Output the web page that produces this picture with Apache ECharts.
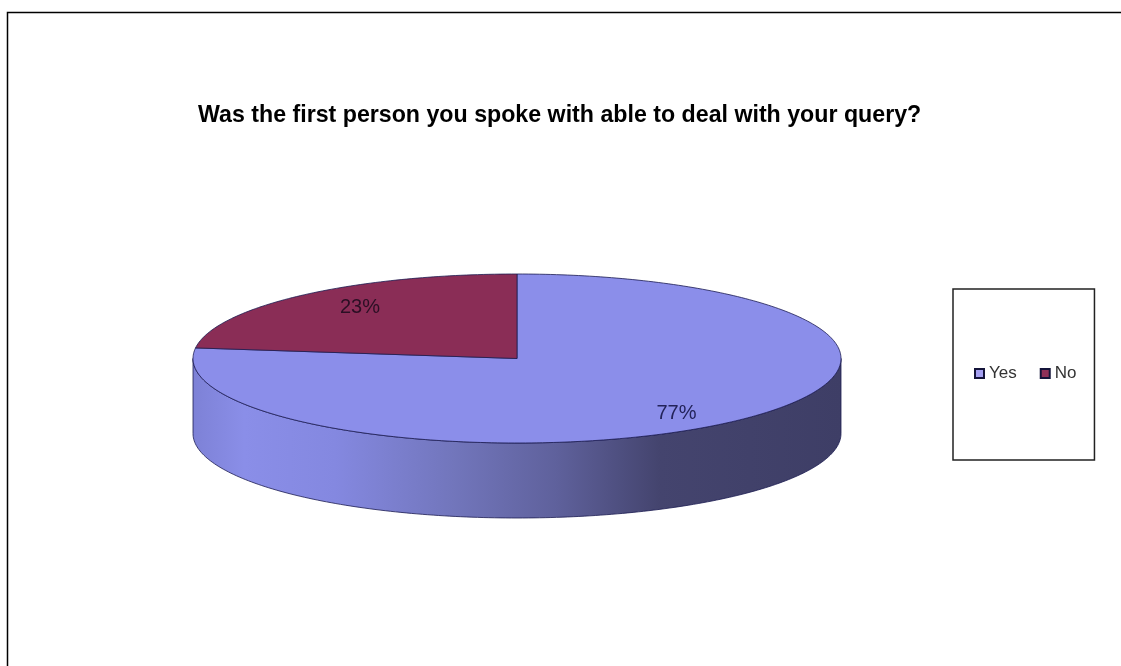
<!DOCTYPE html>
<html>
<head>
<meta charset="utf-8">
<style>html,body{margin:0;padding:0;background:#fff}#c{width:1121px;height:666px}</style>
<script src="https://cdn.jsdelivr.net/npm/echarts@6/dist/echarts.min.js"></script>
</head>
<body>
<div id="c"></div>
<script>
const categories = ['Yes', 'No'];
const values = [77, 23];
const faceColors = ['#8b8eea', '#8a2d56'];
const legendColors = ['#a5a0f2', '#8f3058'];
const titleText = 'Was the first person you spoke with able to deal with your query?';

const cx = 517, cy = 358.5, rx = 324, ry = 84.5, depth = 75;
const total = values.reduce((a, b) => a + b, 0);
const edge = '#1c1c52';
const sideStops = [
  { offset: 0, color: '#7d81d6' }, { offset: 0.08, color: '#8a8ee8' },
  { offset: 0.22, color: '#8488e0' }, { offset: 0.4, color: '#7276bc' },
  { offset: 0.56, color: '#5f619c' }, { offset: 0.72, color: '#44446e' },
  { offset: 1, color: '#3e3e66' }
];
const pt = (deg, dy) => {
  const t = deg * Math.PI / 180;
  return [cx + rx * Math.sin(t), cy - ry * Math.cos(t) + (dy || 0)];
};
const arc = (a, b, dy) => {
  const pts = [], n = Math.max(2, Math.ceil(Math.abs(b - a)));
  for (let i = 0; i <= n; i++) pts.push(pt(a + (b - a) * i / n, dy));
  return pts;
};

function sliceRender(index, labelPos) {
  const start = values.slice(0, index).reduce((a, b) => a + b, 0) / total * 360;
  const end = start + values[index] / total * 360;
  return function () {
    const children = [];
    const s = Math.max(start, 90), e = Math.min(end, 270);
    if (e > s) {
      children.push({
        type: 'polygon',
        shape: { points: arc(s, e, 0).concat(arc(e, s, depth)) },
        style: {
          fill: new echarts.graphic.LinearGradient(0, 0, 1, 0, sideStops),
          stroke: edge, lineWidth: 0.8
        }
      });
    }
    children.push({
      type: 'polygon',
      shape: { points: [[cx, cy]].concat(arc(start, end, 0)) },
      style: { fill: faceColors[index], stroke: edge, lineWidth: 0.8 }
    });
    children.push({
      type: 'text',
      style: {
        x: labelPos[0], y: labelPos[1], text: values[index] + '%',
        font: '20px "Liberation Sans", Arial, sans-serif',
        fill: index === 0 ? '#23235a' : '#2b0f24',
        align: 'center', verticalAlign: 'middle'
      }
    });
    return { type: 'group', children };
  };
}

const labelPositions = [[676.5, 413], [360, 307]];
const chart = echarts.init(document.getElementById('c'), null, { renderer: 'canvas' });
chart.setOption({
  animation: false,
  backgroundColor: '#fff',
  title: {
    text: titleText, left: 198, top: 104, padding: 0,
    textStyle: { fontFamily: '"Liberation Sans", Arial, sans-serif', fontWeight: 'bold', fontSize: 23.2, color: '#000' }
  },
  legend: {
    data: categories.map((n, i) => ({
      name: n, icon: 'rect',
      itemStyle: { color: legendColors[i], borderColor: '#14143a', borderWidth: 2 }
    })),
    left: 953, top: 289, orient: 'horizontal',
    padding: [76, 18, 78, 21], itemWidth: 9, itemHeight: 9, itemGap: 23,
    borderColor: '#222', borderWidth: 1.5, backgroundColor: '#fff', borderRadius: 0,
    textStyle: { fontFamily: '"Liberation Sans", Arial, sans-serif', fontSize: 17, color: '#333' },
    selectedMode: false
  },
  graphic: [{
    type: 'rect', silent: true, z: -10,
    shape: { x: 7.5, y: 12.5, width: 1300, height: 800 },
    style: { fill: 'none', stroke: '#000', lineWidth: 1.5 }
  }],
  series: categories.map((n, i) => ({
    type: 'custom', name: n, coordinateSystem: 'none',
    data: [values[i]],
    renderItem: sliceRender(i, labelPositions[i]),
    itemStyle: { color: faceColors[i] }
  }))
});
</script>
</body>
</html>
